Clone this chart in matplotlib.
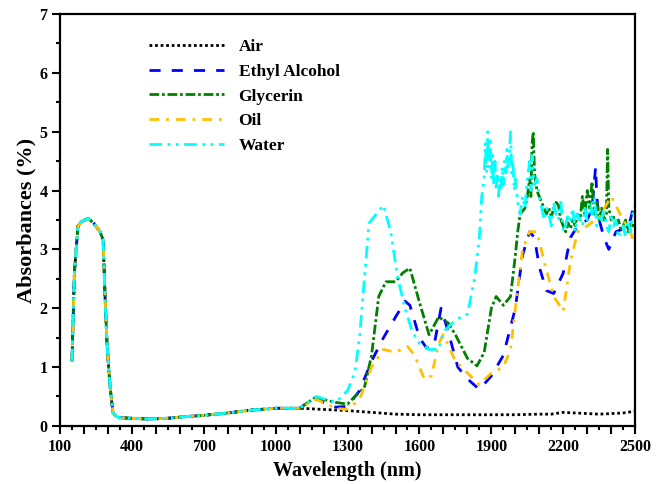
import numpy as np
import matplotlib
matplotlib.use("Agg")
import matplotlib.pyplot as plt
from matplotlib.ticker import MultipleLocator, FuncFormatter

plt.rcParams['font.family'] = ['Liberation Serif', 'DejaVu Serif']
plt.rcParams['font.weight'] = 'bold'

# shared UV/VIS part (all samples overlap here)
uv_wl = [150, 160, 175, 190, 217, 240, 267, 280, 288, 296, 309, 321, 335, 350,
         400, 450, 500, 550, 600, 700, 800, 900, 1000, 1100]
uv_abs = [1.1, 2.6, 3.4, 3.47, 3.53, 3.45, 3.3, 3.16, 2.2, 1.4, 0.66, 0.22, 0.16, 0.14,
          0.13, 0.12, 0.12, 0.13, 0.15, 0.18, 0.22, 0.27, 0.3, 0.3]

air_wl = [1150, 1200, 1300, 1400, 1500, 1600, 1700, 1800, 1900, 2000, 2100,
          2150, 2200, 2250, 2300, 2350, 2400, 2450, 2500]
air_abs = [0.29, 0.28, 0.26, 0.23, 0.2, 0.19, 0.19, 0.19, 0.19, 0.19, 0.2,
           0.2, 0.23, 0.22, 0.21, 0.2, 0.21, 0.22, 0.25]

eth_wl = [1150, 1170, 1200, 1250, 1300, 1350, 1380, 1400, 1450, 1500, 1540, 1560,
          1600, 1630, 1660, 1690, 1720, 1760, 1800, 1850, 1900, 1950, 2000, 2030,
          2060, 2080, 2100, 2130, 2160, 2200, 2230, 2260, 2300, 2320, 2335, 2340,
          2350, 2370, 2390, 2420, 2450, 2480, 2500]
eth_abs = [0.45, 0.48, 0.4, 0.32, 0.33, 0.6, 0.9, 1.1, 1.5, 1.85, 2.12, 2.05,
           1.5, 1.32, 1.35, 2.0, 1.6, 1.0, 0.8, 0.62, 0.85, 1.2, 2.0, 2.9,
           3.3, 3.2, 2.7, 2.3, 2.25, 2.6, 3.2, 3.4, 3.5, 3.7, 4.4, 3.9,
           3.5, 3.2, 3.0, 3.3, 3.35, 3.5, 3.85]

gly_wl = [1170, 1200, 1250, 1300, 1330, 1370, 1400, 1430, 1460, 1500, 1530, 1560,
          1600, 1640, 1680, 1720, 1750, 1800, 1840, 1870, 1900, 1920, 1950, 1980,
          2000, 2010, 2020, 2030, 2040, 2050, 2060, 2065, 2070, 2075, 2080, 2090,
          2100, 2110, 2120, 2130, 2140, 2150, 2160, 2170, 2180, 2190, 2200, 2210,
          2220, 2230, 2240, 2250, 2260, 2270, 2280, 2290, 2300, 2310, 2320, 2330,
          2340, 2350, 2360, 2370, 2380, 2385, 2390, 2400, 2410, 2420, 2430, 2440,
          2450, 2460, 2470, 2480, 2490, 2500]
gly_abs = [0.5, 0.45, 0.4, 0.37, 0.5, 0.65, 1.2, 2.2, 2.45, 2.45, 2.6, 2.68,
           2.1, 1.55, 1.85, 1.75, 1.55, 1.15, 1.02, 1.25, 2.0, 2.2, 2.05, 2.2,
           2.9, 3.3, 3.6, 3.65, 3.7, 3.9, 4.2, 3.9, 4.8, 5.0, 4.3, 4.0,
           3.9, 3.8, 3.7, 3.6, 3.7, 3.55, 3.7, 3.8, 3.75, 3.5, 3.4, 3.3,
           3.45, 3.35, 3.5, 3.4, 3.6, 3.5, 3.9, 3.6, 4.0, 3.7, 4.15, 3.6,
           3.8, 3.5, 3.7, 3.5, 3.6, 4.7, 3.7, 3.5, 3.55, 3.4, 3.5, 3.35,
           3.4, 3.5, 3.3, 3.45, 3.4, 3.45]

oil_wl = [1170, 1250, 1300, 1350, 1400, 1450, 1500, 1550, 1580, 1620, 1650, 1680,
          1700, 1750, 1800, 1850, 1900, 1950, 1980, 2000, 2030, 2060, 2090, 2120,
          2160, 2200, 2230, 2260, 2300, 2350, 2400, 2450, 2480, 2500]
oil_abs = [0.45, 0.3, 0.28, 0.45, 1.0, 1.3, 1.25, 1.35, 1.2, 0.8, 0.85, 1.4,
           1.55, 1.1, 0.9, 0.7, 0.9, 1.0, 1.3, 2.0, 3.0, 3.3, 3.3, 2.8,
           2.2, 1.95, 2.8, 3.3, 3.4, 3.55, 3.9, 3.5, 3.3, 3.05]

wat_wl = [1170, 1250, 1300, 1330, 1350, 1370, 1390, 1420, 1450, 1480, 1510, 1540,
          1570, 1600, 1640, 1680, 1700, 1750, 1800, 1830, 1850, 1860, 1870, 1875,
          1880, 1885, 1890, 1895, 1900, 1905, 1910, 1915, 1920, 1925, 1930, 1935,
          1940, 1945, 1950, 1955, 1960, 1965, 1970, 1975, 1980, 1985, 1990, 1995,
          2000, 2010, 2020, 2030, 2040, 2050, 2060, 2065, 2070, 2080, 2090, 2100,
          2110, 2120, 2130, 2140, 2150, 2160, 2170, 2180, 2190, 2200, 2210, 2220,
          2230, 2240, 2250, 2260, 2270, 2280, 2290, 2300, 2310, 2320, 2330, 2340,
          2350, 2360, 2370, 2380, 2390, 2400, 2410, 2420, 2430, 2440, 2450, 2460,
          2470, 2480, 2490, 2500]
wat_abs = [0.5, 0.4, 0.6, 0.9, 1.5, 2.5, 3.45, 3.6, 3.75, 3.3, 2.5, 2.0,
           1.6, 1.4, 1.3, 1.3, 1.6, 1.8, 1.9, 2.5, 3.2, 3.9, 4.2, 4.8,
           4.3, 5.0, 4.4, 4.9, 4.2, 4.6, 4.1, 4.5, 4.0, 4.3, 3.9, 4.2,
           4.0, 4.4, 4.1, 4.5, 4.3, 4.7, 4.4, 4.6, 5.0, 4.3, 4.5, 4.0,
           4.2, 3.8, 3.6, 3.9, 3.7, 4.2, 4.5, 4.0, 4.6, 4.1, 4.2, 3.9,
           3.7, 3.5, 3.7, 3.6, 3.4, 3.8, 3.6, 3.5, 3.8, 3.3, 3.4, 3.6,
           3.5, 3.7, 3.3, 3.6, 3.5, 3.4, 3.7, 3.5, 3.8, 3.6, 3.9, 3.4,
           3.6, 3.5, 3.7, 3.4, 3.3, 3.6, 3.4, 3.5, 3.2, 3.3, 3.4, 3.2,
           3.5, 3.3, 3.6, 3.75]

series = [
    ("Air", air_wl, air_abs, "black", (0, (1, 1))),
    ("Ethyl Alcohol", eth_wl, eth_abs, "#0000FF", (0, (4, 4))),
    ("Glycerin", gly_wl, gly_abs, "#008000", (0, (3.5, 1, 1, 1))),
    ("Oil", oil_wl, oil_abs, "#FFC000", (0, (3.5, 2.5, 1, 2.5))),
    ("Water", wat_wl, wat_abs, "#00FFFF", (0, (4.5, 2, 1, 2, 1, 2))),
]

fig = plt.figure(figsize=(6.63, 4.84), dpi=100)
ax = fig.add_axes([0.0905, 0.12, 0.8675, 0.851])

for name, wl, ab, col, ls in series:
    x = uv_wl + wl
    y = uv_abs + ab
    ax.plot(x, y, color=col, linestyle=ls, lw=2, label=name)

ax.set_xlim(100, 2500)
ax.set_ylim(0, 7)
# long tick every 100 nm, label every 300 nm, short tick every 50 nm
ax.xaxis.set_major_locator(MultipleLocator(100))
ax.xaxis.set_major_formatter(FuncFormatter(
    lambda v, p: f"{v:.0f}" if round(v - 100) % 300 == 0 else ""))
ax.xaxis.set_minor_locator(MultipleLocator(50))
ax.yaxis.set_major_locator(MultipleLocator(1))
ax.yaxis.set_minor_locator(MultipleLocator(0.5))
ax.tick_params(which='major', direction='out', length=5.5, width=1.5, labelsize=11.5)
ax.tick_params(axis='x', which='major', pad=4)
ax.tick_params(which='minor', direction='out', length=3, width=1.5)
for sp in ax.spines.values():
    sp.set_linewidth(1.6)

ax.set_xlabel("Wavelength (nm)", fontsize=14.5, fontweight='bold', labelpad=4)
ax.set_ylabel("Absorbances (%)", fontsize=16, fontweight='bold', labelpad=2)

ax.legend(loc='upper left', bbox_to_anchor=(0.155, 0.94), frameon=False,
          borderpad=0, borderaxespad=0, handlelength=4.3, handletextpad=0.85,
          labelspacing=0.5, prop={'size': 12.5, 'weight': 'bold'})

fig.savefig("out.png", dpi=100)
